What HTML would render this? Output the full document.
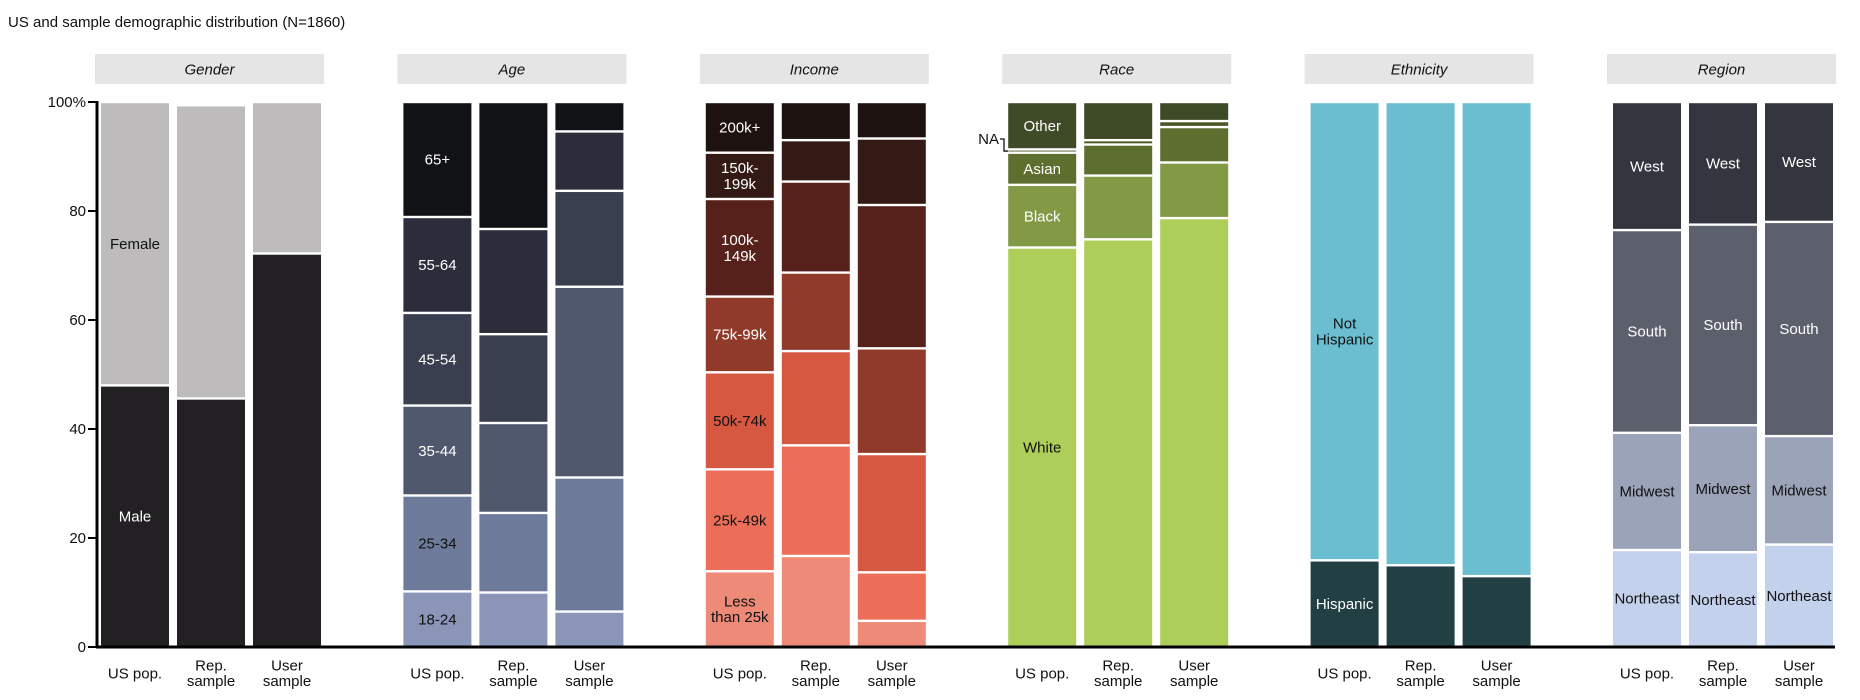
<!DOCTYPE html>
<html><head><meta charset="utf-8">
<style>
html,body{margin:0;padding:0;background:#fff;}
svg{display:block;font-family:"Liberation Sans",Arial,sans-serif;}
</style></head>
<body>
<svg id="chart" width="1860" height="700" viewBox="0 0 1860 700" xmlns="http://www.w3.org/2000/svg">
<text x="8" y="27" font-size="15" fill="#111">US and sample demographic distribution (N=1860)</text>
<g id="g"></g>
</svg>
<script>
const panels = ["Gender","Age","Income","Race","Ethnicity","Region"];
const groups = ["US pop.","Rep.\nsample","User\nsample"];
const yTicks = [0,20,40,60,80,100];
const yTickLabels = ["0","20","40","60","80","100%"];
// segments bottom-up
const genderCats = ["Male","Female"];
const genderVals = [[48,52],[45.6,53.8],[72.2,27.8]];
const genderColors = ["#222022","#bdbbbc"];
const ageCats = ["18-24","25-34","35-44","45-54","55-64","65+"];
const ageVals = [[10.2,17.6,16.5,17.0,17.6,21.1],[10,14.6,16.5,16.3,19.3,23.3],[6.5,24.6,35,17.6,10.9,5.4]];
const ageColors = ["#8a95b8","#6e7a99","#4f586d","#3a3f50","#2b2e3a","#111216"];
const incomeCats = ["Less\nthan 25k","25k-49k","50k-74k","75k-99k","100k-\n149k","150k-\n199k","200k+"];
const incomeVals = [[13.9,18.7,17.8,13.9,17.9,8.5,9.3],[16.7,20.3,17.3,14.4,16.7,7.6,7],[4.8,8.9,21.7,19.4,26.3,12.2,6.7]];
const incomeColors = ["#ee8b78","#ec6e58","#d75840","#903a2a","#56201b","#341a15","#1e1210"];
const raceCats = ["White","Black","Asian","NA","Other"];
const raceVals = [[73.3,11.5,5.9,0.6,8.7],[74.8,11.7,5.7,0.8,7],[78.7,10.2,6.5,1.1,3.5]];
const raceColors = ["#aece5a","#829945","#5e6e2f","#4a5826","#3f4a27"];
const ethCats = ["Hispanic","Not\nHispanic"];
const ethVals = [[15.9,84.1],[15.0,85.0],[13.0,87.0]];
const ethColors = ["#223f44","#6abecf"];
const regionCats = ["Northeast","Midwest","South","West"];
const regionVals = [[17.8,21.5,37.2,23.5],[17.4,23.3,36.8,22.5],[18.8,19.9,39.3,22]];
const regionColors = ["#c4d1ec","#9aa3b7","#5c5f6c","#34363f"];

const data = [
 {cats:genderCats, vals:genderVals, cols:genderColors, dark:[1,0], allLabels:false},
 {cats:ageCats, vals:ageVals, cols:ageColors, dark:[0,0,1,1,1,1], allLabels:false},
 {cats:incomeCats, vals:incomeVals, cols:incomeColors, dark:[0,0,0,1,1,1,1], allLabels:false},
 {cats:raceCats, vals:raceVals, cols:raceColors, dark:[0,1,1,1,1], allLabels:false},
 {cats:ethCats, vals:ethVals, cols:ethColors, dark:[1,0], allLabels:false},
 {cats:regionCats, vals:regionVals, cols:regionColors, dark:[0,0,1,1], allLabels:true}
];
const NS="http://www.w3.org/2000/svg";
const g=document.getElementById('g');
const Y0=647, Y100=102;
function y(v){return Y0-(Y0-Y100)*v/100;}
function px(p){return 95+302.4*p;}
function bx(p,i){return px(p)+6+76*i;}
function mk(tag,attrs,parent){const e=document.createElementNS(NS,tag);for(const k in attrs)e.setAttribute(k,attrs[k]);(parent||g).appendChild(e);return e;}
function txt(str,x,yc,size,fill,extra){
  const lines=str.split("\n");
  const t=mk('text',Object.assign({x:x,'font-size':size,fill:fill,'text-anchor':'middle'},extra||{}));
  lines.forEach((l,k)=>{const s=mk('tspan',{x:x,y:yc+size*0.35+(k-(lines.length-1)/2)*size*1.05},t);s.textContent=l;});
  return t;
}
panels.forEach((p,pi)=>{
  const h=mk('rect',{x:px(pi),y:54,width:229,height:30,fill:'#e5e5e5'});
  
  
  const ht=txt(p,px(pi)+114.5,69,15,'#111',{'font-style':'italic'});
  
  
  const d=data[pi];
  d.vals.forEach((arr,gi)=>{
    let cum=0;
    const x=bx(pi,gi);
    arr.forEach((v,si)=>{
      const top=y(cum+v), bot=y(cum);
      const r=mk('rect',{x:x,y:top+1.2,width:68,height:Math.max(0.3,bot-top-2.4),fill:d.cols[si]});
      
      
      if((gi===0||d.allLabels)&&d.cats[si]!=="NA"){
        const lt=txt(d.cats[si],x+34,(top+bot)/2,15,d.dark[si]?'#fff':'#111');
        
        
      }
      if(pi===3&&gi===0&&d.cats[si]==="NA"){
        const yc=(top+bot)/2;
        const na=mk('text',{x:999,y:144,'font-size':15,fill:'#111','text-anchor':'end'});
        na.textContent="NA";
        
        
        const ln=mk('polyline',{points:`1000,139 1004,139 1004,${yc} 1008,${yc}`,fill:'none',stroke:'#111','stroke-width':1.3});
        
        
      }
      cum+=v;
    });
    const xl=txt(groups[gi],x+34,673,15,'#111');
    
    
  });
});
const ax=mk('line',{x1:97,y1:Y100-1,x2:97,y2:Y0+1,stroke:'#000','stroke-width':3});


const bx2=mk('line',{x1:96,y1:Y0,x2:1835,y2:Y0,stroke:'#000','stroke-width':3});


yTicks.forEach((t,i)=>{
  const tl=mk('line',{x1:88,y1:y(t),x2:97,y2:y(t),stroke:'#000','stroke-width':2});
  
  
  const tt=mk('text',{x:86,y:y(t)+5,'font-size':15,fill:'#111','text-anchor':'end'});
  tt.textContent=yTickLabels[i];
  
  
});
</script>
</body></html>
